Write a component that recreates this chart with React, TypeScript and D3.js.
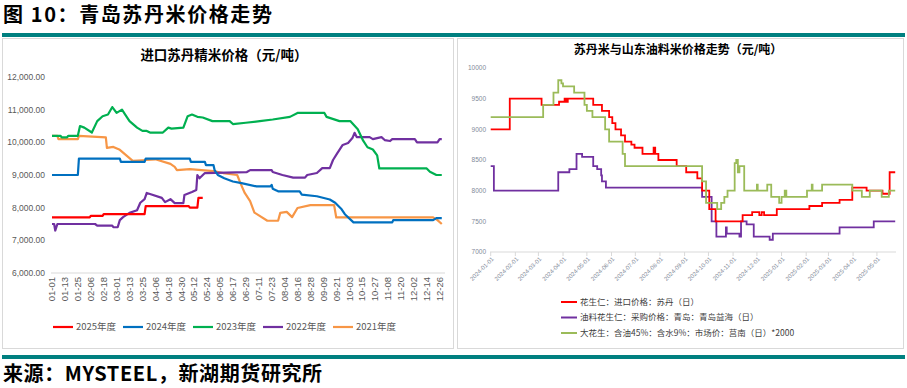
import React, { useEffect, useRef } from 'react';
import * as d3 from 'd3';

// ---- left chart: x = day index on a leap-year axis (0 = 01-01), y = 元/吨
const leftTickLabels = ['01-01', '01-13', '01-25', '02-06', '02-18', '03-01', '03-13', '03-25', '04-06', '04-18', '04-30', '05-12', '05-24', '06-05', '06-17', '06-29', '07-11', '07-23', '08-04', '08-16', '08-28', '09-09', '09-21', '10-03', '10-15', '10-27', '11-08', '11-20', '12-02', '12-14', '12-26'];
const leftYTicks = [6000, 7000, 8000, 9000, 10000, 11000, 12000];
const leftNames = ['2025年度', '2024年度', '2023年度', '2022年度', '2021年度'];
const leftColors = ['#FF0000', '#0070C0', '#00B050', '#7030A0', '#F79646'];

const y2025: [number, number][] = [[0, 7700], [35, 7700], [36, 7750], [47, 7750], [48, 7800], [86, 7800], [87, 8050], [127, 8050], [128, 8000], [135, 8000], [136, 8300], [140, 8300]];
const y2024: [number, number][] = [[0, 9000], [24, 9000], [25, 9500], [63, 9500], [64, 9400], [86, 9400], [87, 9500], [128, 9500], [129, 9400], [142, 9400], [143, 9300], [150, 9300], [151, 9150], [154, 9000], [160, 8900], [168, 8800], [176, 8750], [190, 8650], [203, 8650], [204, 8700], [205, 8580], [210, 8500], [230, 8500], [232, 8400], [246, 8350], [258, 8250], [263, 8150], [269, 7950], [272, 7800], [280, 7550], [316, 7550], [317, 7620], [354, 7620], [357, 7680], [362, 7680]];
const y2023: [number, number][] = [[0, 10200], [8, 10200], [9, 10150], [14, 10150], [15, 10200], [24, 10200], [26, 10500], [30, 10450], [37, 10300], [42, 10650], [47, 10800], [52, 10850], [56, 11080], [60, 10900], [65, 11000], [68, 10850], [72, 10650], [79, 10450], [84, 10350], [88, 10350], [91, 10300], [103, 10300], [108, 10450], [111, 10420], [122, 10450], [126, 10800], [130, 10850], [135, 10780], [140, 10760], [149, 10650], [165, 10650], [168, 10560], [180, 10600], [193, 10650], [205, 10700], [221, 10780], [228, 10900], [253, 10900], [255, 10780], [267, 10650], [277, 10650], [284, 10400], [289, 10050], [293, 9850], [298, 9780], [302, 9600], [304, 9200], [348, 9200], [351, 9100], [357, 9000], [362, 9000]];
const y2022: [number, number][] = [[0, 7500], [2, 7500], [3, 7300], [5, 7500], [40, 7500], [42, 7450], [56, 7450], [57, 7400], [61, 7400], [63, 7620], [66, 7710], [72, 7840], [79, 7920], [82, 8150], [86, 8260], [88, 8450], [91, 8420], [102, 8300], [105, 8170], [110, 8260], [114, 8140], [122, 8140], [123, 8390], [130, 8480], [134, 8540], [135, 9000], [137, 8900], [142, 9060], [181, 9090], [184, 9150], [204, 9150], [205, 9090], [214, 9000], [224, 8920], [235, 8920], [237, 9000], [246, 9060], [251, 9210], [258, 9210], [261, 9460], [265, 9670], [270, 9920], [275, 9980], [279, 10130], [281, 10290], [283, 10160], [295, 10160], [298, 10100], [306, 10160], [309, 10070], [314, 10040], [316, 10100], [337, 10100], [339, 10000], [358, 10000], [360, 10100], [362, 10100]];
const y2021: [number, number][] = [[0, 10200], [5, 10200], [6, 10100], [24, 10100], [25, 10200], [50, 10150], [51, 9830], [57, 9860], [63, 9770], [75, 9430], [88, 9460], [96, 9480], [110, 9340], [114, 9250], [116, 9150], [128, 9180], [150, 9120], [159, 9060], [172, 9000], [175, 8750], [179, 8450], [184, 8200], [188, 7850], [200, 7600], [210, 7600], [212, 7840], [218, 7870], [223, 7710], [228, 7990], [240, 8080], [262, 8080], [264, 7700], [354, 7700], [358, 7620], [362, 7500]];

// ---- right chart: step series, value holds from each date
const rightTickLabels = ['2024-01-01', '2024-02-01', '2024-03-01', '2024-04-01', '2024-05-01', '2024-06-01', '2024-07-01', '2024-08-01', '2024-09-01', '2024-10-01', '2024-11-01', '2024-12-01', '2025-01-01', '2025-02-01', '2025-03-01', '2025-04-01', '2025-05-01'];
const rightYTicks = [7000, 7500, 8000, 8500, 9000, 9500, 10000];
const rightNames = ['花生仁：进口价格：苏丹（日）', '油料花生仁：采购价格：青岛：青岛益海（日）', '大花生：含油45%：含水9%：市场价：莒南（日）*2000'];
const rightColors = ['#FF0000', '#7030A0', '#9BBB59'];

const sudan: [string, number][] = [['2024-01-01', 9000], ['2024-01-25', 9500], ['2024-03-05', 9400], ['2024-03-27', 9450], ['2024-04-03', 9500], ['2024-04-05', 9450], ['2024-04-07', 9500], ['2024-05-09', 9400], ['2024-05-20', 9300], ['2024-05-29', 9200], ['2024-06-02', 9100], ['2024-06-06', 9000], ['2024-06-13', 8900], ['2024-06-18', 8800], ['2024-06-26', 8750], ['2024-06-30', 8700], ['2024-07-10', 8600], ['2024-07-24', 8700], ['2024-07-26', 8600], ['2024-07-30', 8500], ['2024-08-22', 8400], ['2024-09-03', 8300], ['2024-09-17', 8200], ['2024-09-23', 8000], ['2024-10-02', 7700], ['2024-10-10', 7500], ['2024-11-13', 7600], ['2024-11-25', 7650], ['2024-12-04', 7600], ['2024-12-07', 7650], ['2024-12-10', 7600], ['2024-12-26', 7700], ['2025-02-05', 7750], ['2025-02-21', 7800], ['2025-03-15', 7850], ['2025-03-31', 8050], ['2025-04-18', 8000], ['2025-05-08', 7950], ['2025-05-17', 8300], ['2025-05-24', 8300]];
const qingdao: [string, number][] = [['2024-01-01', 8400], ['2024-01-05', 8000], ['2024-03-26', 8300], ['2024-04-09', 8350], ['2024-04-18', 8600], ['2024-04-25', 8550], ['2024-05-09', 8400], ['2024-05-14', 8350], ['2024-05-19', 8250], ['2024-05-20', 8150], ['2024-05-25', 8050], ['2024-09-23', 7900], ['2024-10-05', 7500], ['2024-10-11', 7250], ['2024-10-23', 7400], ['2024-10-24', 7300], ['2024-11-09', 7250], ['2024-11-11', 7500], ['2024-11-18', 7450], ['2024-11-27', 7250], ['2024-12-17', 7200], ['2024-12-21', 7300], ['2025-03-15', 7400], ['2025-04-27', 7500], ['2025-05-24', 7500]];
const junan: [string, number][] = [['2024-01-01', 9200], ['2024-03-07', 9400], ['2024-03-20', 9600], ['2024-03-26', 9800], ['2024-03-30', 9750], ['2024-04-01', 9700], ['2024-04-15', 9600], ['2024-04-28', 9400], ['2024-05-01', 9300], ['2024-05-08', 9200], ['2024-05-24', 9000], ['2024-05-29', 8800], ['2024-06-15', 8600], ['2024-06-18', 8400], ['2024-09-23', 8150], ['2024-09-28', 7800], ['2024-10-12', 7700], ['2024-10-17', 7800], ['2024-10-21', 7900], ['2024-10-25', 8000], ['2024-11-03', 8450], ['2024-11-05', 8500], ['2024-11-07', 8300], ['2024-11-09', 8400], ['2024-11-15', 8000], ['2024-12-01', 8100], ['2024-12-02', 8000], ['2024-12-14', 8100], ['2024-12-19', 7900], ['2024-12-29', 7800], ['2025-01-01', 7900], ['2025-01-05', 8000], ['2025-01-07', 7900], ['2025-02-02', 8000], ['2025-02-08', 8100], ['2025-02-09', 8000], ['2025-02-21', 8100], ['2025-03-31', 8000], ['2025-04-12', 7900], ['2025-04-22', 8000], ['2025-05-07', 7900], ['2025-05-16', 8000], ['2025-05-24', 8000]];

const TEAL = '#008080';
const CJK = '"Noto Sans CJK SC", "Liberation Sans", sans-serif';

const App = () => {
  const ref = useRef<SVGSVGElement>(null);

  useEffect(() => {
    const svg = d3.select(ref.current);
    svg.selectAll('*').remove();

    // header / footer
    svg.append('text').attr('x', 3).attr('y', 22).attr('font-family', CJK).attr('font-weight', 700)
      .attr('font-size', 20).attr('letter-spacing', 1.6).attr('fill', '#000').text('图 10：青岛苏丹米价格走势');
    svg.append('rect').attr('x', 2).attr('y', 33).attr('width', 903).attr('height', 4).attr('fill', TEAL);
    svg.append('rect').attr('x', 2).attr('y', 355).attr('width', 903).attr('height', 4).attr('fill', TEAL);
    svg.append('text').attr('x', 3).attr('y', 381).attr('font-family', CJK).attr('font-weight', 700)
      .attr('font-size', 20).attr('letter-spacing', 0.6).attr('fill', '#000').text('来源：MYSTEEL，新湖期货研究所');

    // panels
    svg.append('rect').attr('x', 2.5).attr('y', 38.5).attr('width', 451).attr('height', 310)
      .attr('fill', '#fff').attr('stroke', '#d9d9d9');
    svg.append('rect').attr('x', 457.5).attr('y', 38.5).attr('width', 446).attr('height', 310)
      .attr('fill', '#fff').attr('stroke', '#d9d9d9');

    // ===== left chart
    const L = svg.append('g');
    L.append('text').attr('x', 224).attr('y', 60).attr('text-anchor', 'middle').attr('font-family', CJK)
      .attr('font-weight', 700).attr('font-size', 13.5).attr('fill', '#000').text('进口苏丹精米价格（元/吨）');

    const lx = d3.scaleLinear().domain([0, 365]).range([52, 445]);
    const ly = d3.scaleLinear().domain([6000, 12000]).range([273, 77]);

    L.append('line').attr('x1', 51).attr('x2', 445).attr('y1', ly(6000)).attr('y2', ly(6000))
      .attr('stroke', '#d9d9d9').attr('stroke-width', 1);

    L.selectAll('.ly').data(leftYTicks).enter().append('text')
      .attr('x', 45).attr('y', d => ly(d)).attr('dy', '0.35em').attr('text-anchor', 'end')
      .attr('font-family', 'Liberation Sans, Arial, sans-serif').attr('font-size', 8.5).attr('fill', '#595959')
      .text(d => d3.format(',.2f')(d));

    L.selectAll('.lx').data(leftTickLabels).enter().append('text')
      .attr('transform', (d, i) => `translate(${lx(i * 12)},277) rotate(-90)`)
      .attr('dy', '0.35em').attr('text-anchor', 'end')
      .attr('font-family', 'Liberation Sans, Arial, sans-serif').attr('font-size', 9.5).attr('fill', '#595959')
      .text(d => d);

    const lline = d3.line<[number, number]>().x(d => lx(d[0])).y(d => ly(d[1]));
    const leftSeries = [y2025, y2024, y2023, y2022, y2021];
    // draw oldest first so 2025 stays on top
    [4, 3, 2, 1, 0].forEach(i => {
      L.append('path').attr('d', lline(leftSeries[i])).attr('fill', 'none')
        .attr('stroke', leftColors[i]).attr('stroke-width', 2.2).attr('stroke-linejoin', 'round');
    });

    const lg = L.selectAll('.lg').data(leftNames).enter().append('g')
      .attr('transform', (d, i) => `translate(${53 + i * 70},327)`);
    lg.append('line').attr('x1', 0).attr('x2', 20).attr('y1', 0).attr('y2', 0)
      .attr('stroke', (d, i) => leftColors[i]).attr('stroke-width', 2.2);
    lg.append('text').attr('x', 23).attr('y', 0).attr('dy', '0.35em').attr('font-family', CJK)
      .attr('font-size', 9.5).attr('fill', '#595959').text(d => d);

    // ===== right chart
    const R = svg.append('g');
    R.append('text').attr('x', 678).attr('y', 54).attr('text-anchor', 'middle').attr('font-family', CJK)
      .attr('font-weight', 700).attr('font-size', 12).attr('fill', '#000').text('苏丹米与山东油料米价格走势（元/吨）');

    const parse = d3.timeParse('%Y-%m-%d');
    const rx = d3.scaleTime().domain([parse('2024-01-01')!, parse('2025-05-25')!]).range([490.7, 896]);
    const ry = d3.scaleLinear().domain([7000, 10000]).range([252, 68]);

    R.append('line').attr('x1', 490).attr('x2', 896).attr('y1', ry(7000)).attr('y2', ry(7000))
      .attr('stroke', '#d9d9d9');
    R.selectAll('.rt').data(rightTickLabels).enter().append('line')
      .attr('x1', d => rx(parse(d)!)).attr('x2', d => rx(parse(d)!))
      .attr('y1', ry(7000)).attr('y2', ry(7000) + 4).attr('stroke', '#d9d9d9');

    R.selectAll('.ry').data(rightYTicks).enter().append('text')
      .attr('x', 486).attr('y', d => ry(d)).attr('dy', '0.35em').attr('text-anchor', 'end')
      .attr('font-family', 'Liberation Sans, Arial, sans-serif').attr('font-size', 6.5).attr('fill', '#7f8a99')
      .text(d => d);

    R.selectAll('.rx').data(rightTickLabels).enter().append('text')
      .attr('transform', d => `translate(${rx(parse(d)!) + 2},258) rotate(-45)`)
      .attr('dy', '0.35em').attr('text-anchor', 'end')
      .attr('font-family', 'Liberation Sans, Arial, sans-serif').attr('font-size', 6).attr('fill', '#7f8a99')
      .text(d => d);

    const rline = d3.line<[string, number]>().x(d => rx(parse(d[0])!)).y(d => ry(d[1])).curve(d3.curveStepAfter);
    const rightSeries = [sudan, qingdao, junan];
    [1, 0, 2].forEach(i => {
      R.append('path').attr('d', rline(rightSeries[i])).attr('fill', 'none')
        .attr('stroke', rightColors[i]).attr('stroke-width', 1.8);
    });

    const rg = R.selectAll('.rg').data(rightNames).enter().append('g')
      .attr('transform', (d, i) => `translate(561,${302 + i * 15.5})`);
    rg.append('line').attr('x1', 0).attr('x2', 16).attr('y1', 0).attr('y2', 0)
      .attr('stroke', (d, i) => rightColors[i]).attr('stroke-width', 2);
    rg.append('text').attr('x', 19).attr('y', 0).attr('dy', '0.35em').attr('font-family', CJK)
      .attr('font-size', 8.5).attr('fill', '#404040').text(d => d);
  }, []);

  return (
    <svg ref={ref} width={907} height={388}
      style={{ position: 'absolute', left: 0, top: 0, background: '#fff' }} />
  );
};

export default App;
